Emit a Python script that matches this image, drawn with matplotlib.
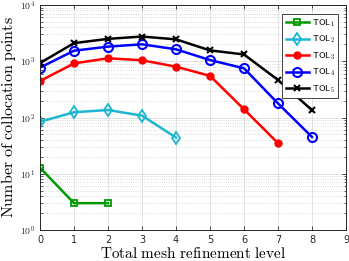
import matplotlib
matplotlib.use("Agg")
import matplotlib.pyplot as plt
from matplotlib.ticker import FixedLocator, LogLocator, NullFormatter

plt.rcParams['mathtext.fontset'] = 'cm'

levels1 = [0, 1, 2]
tol1 = [12.8, 3.0, 3.0]
levels2 = [0, 1, 2, 3, 4]
tol2 = [84, 124, 136, 108, 44]
levels3 = [0, 1, 2, 3, 4, 5, 6, 7]
tol3 = [445, 915, 1130, 1040, 800, 550, 140, 35]
levels4 = [0, 1, 2, 3, 4, 5, 6, 7, 8]
tol4 = [770, 1540, 1820, 2000, 1630, 1050, 750, 178, 45]
levels5 = [0, 1, 2, 3, 4, 5, 6, 7, 8]
tol5 = [930, 2100, 2500, 2750, 2450, 1560, 1320, 465, 135]

series_labels = [r'$\mathsf{TOL_1}$', r'$\mathsf{TOL_2}$', r'$\mathsf{TOL_3}$',
                 r'$\mathsf{TOL_4}$', r'$\mathsf{TOL_5}$']
xticks = [0, 1, 2, 3, 4, 5, 6, 7, 8, 9]
yticks = [1, 10, 100, 1000, 10000]
ytick_labels = [r'$\mathsf{10^{0}}$', r'$\mathsf{10^{1}}$', r'$\mathsf{10^{2}}$',
                r'$\mathsf{10^{3}}$', r'$\mathsf{10^{4}}$']

fig = plt.figure(figsize=(3.49, 2.61), dpi=100)
ax = fig.add_axes([40/349, 1-230/261, 306/349, 225/261])

lw = 1.8
ax.plot(levels1, tol1, color='#009a00', marker='s', ms=5, mfc='none', mew=1.3, lw=lw, label=series_labels[0])
ax.plot(levels2, tol2, color='#1cb6cf', marker='d', ms=6, mfc='none', mew=1.3, lw=lw, label=series_labels[1])
ax.plot(levels3, tol3, color='#ff0000', marker='o', ms=5, mfc='#ff0000', mew=1.0, lw=lw, label=series_labels[2])
ax.plot(levels4, tol4, color='#0000ff', marker='o', ms=6.5, mfc='none', mew=1.5, lw=lw, label=series_labels[3])
ax.plot(levels5, tol5, color='#000000', marker='x', ms=5, mew=1.5, lw=lw, label=series_labels[4])

ax.set_yscale('log')
ax.set_xlim(0, 9)
ax.set_ylim(1, 10000)
ax.xaxis.set_major_locator(FixedLocator(xticks))
ax.set_xticklabels([str(t) for t in xticks])
ax.yaxis.set_major_locator(FixedLocator(yticks))
ax.set_yticklabels(ytick_labels)
ax.yaxis.set_minor_locator(LogLocator(base=10, subs=range(2, 10), numticks=20))
ax.yaxis.set_minor_formatter(NullFormatter())

ax.grid(True, which='major', color='#dddddd', lw=0.6, ls='-')
ax.grid(True, which='minor', axis='y', color='#d0d0d0', lw=0.6, ls=':')
ax.set_axisbelow(True)

ax.tick_params(which='both', direction='in', top=True, right=True, labelsize=7, colors='#262626', labelcolor='#262626')
ax.tick_params(which='major', length=3, width=0.6)
ax.tick_params(which='minor', length=1.8, width=0.5)
for s in ax.spines.values():
    s.set_color('#262626')
    s.set_linewidth(0.7)

ax.set_xlabel(r'$\mathrm{Total\ mesh\ refinement\ level}$', fontsize=11, labelpad=1)
ax.set_ylabel(r'$\mathrm{Number\ of\ collocation\ points}$', fontsize=11.5, labelpad=1)

leg = ax.legend(loc='upper right', fontsize=6.5, frameon=True, fancybox=False,
                edgecolor='#262626', framealpha=1, borderpad=0.35, labelspacing=0.55,
                handlelength=2.6, handletextpad=0.3, borderaxespad=0,
                bbox_to_anchor=(338/349 - 40/349, 1 - (14 - 5)/225 + 0.0))
leg.set_bbox_to_anchor(((338 - 40)/306, (230 - 14)/225), transform=ax.transAxes)
leg.get_frame().set_linewidth(0.6)

fig.savefig('out.png', dpi=100)
